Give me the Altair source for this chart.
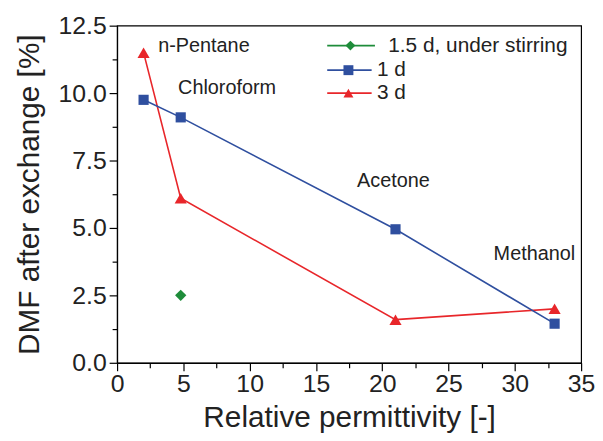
import altair as alt
import pandas as pd

# data
x_1d = [2.0, 4.8, 21.0, 33.0]
y_1d = [9.75, 9.1, 4.95, 1.45]
x_3d = [2.0, 4.8, 21.0, 33.0]
y_3d = [11.5, 6.1, 1.6, 2.0]
x_stir = [4.8]
y_stir = [2.5]

solvents = ["n-Pentane", "Chloroform", "Acetone", "Methanol"]
sol_x = [3.1, 4.6, 18.1, 28.4]
sol_y = [11.75, 10.2, 6.75, 4.05]

leg_labels = ["1.5 d, under stirring", "1 d", "3 d"]
leg_colors = ["#1e8c3a", "#2f4f9f", "#e8262a"]
leg_shapes = ["diamond", "square", "triangle-up"]
leg_y = [11.76, 10.85, 10.0]
leg_x1 = [15.85, 15.85, 15.85]
leg_x2 = [19.45, 19.2, 19.2]
leg_xm = [17.6, 17.45, 17.45]
leg_xt = [20.45, 19.6, 19.6]

x_ticks = [0, 2.5, 5, 7.5, 10, 12.5, 15, 17.5, 20, 22.5, 25, 27.5, 30, 32.5, 35]
y_ticks = [0, 1.25, 2.5, 3.75, 5, 6.25, 7.5, 8.75, 10, 11.25, 12.5]

FONT = "Liberation Sans"
xs = alt.Scale(domain=[0, 35], nice=False)
ys = alt.Scale(domain=[0, 12.5], nice=False)

df1 = pd.DataFrame({"x": x_1d, "y": y_1d})
df3 = pd.DataFrame({"x": x_3d, "y": y_3d})
dfs = pd.DataFrame({"x": x_stir, "y": y_stir})
dsol = pd.DataFrame({"x": sol_x, "y": sol_y, "t": solvents})
dleg = pd.DataFrame({"t": leg_labels, "c": leg_colors, "s": leg_shapes, "y": leg_y,
                     "x1": leg_x1, "x2": leg_x2, "xm": leg_xm, "xt": leg_xt})

xaxis = alt.Axis(values=x_ticks, title="Relative permittivity [-]",
                 labelExpr="datum.value % 5 === 0 ? datum.label : ''",
                 tickSize={"condition": {"test": "datum.value % 5 === 0", "value": 8}, "value": 5},
                 grid=False, labelFontSize=25, titleFontSize=30, labelFont=FONT, titleFont=FONT,
                 tickColor="black", domainColor="black", labelColor="#222",
                 titleColor="#222", titleFontWeight="normal", labelPadding=1, titlePadding=6,
                 tickWidth=1.2, domainWidth=1.2, labelFlush=False, labelOverlap=False)
yaxis = alt.Axis(values=y_ticks, format=".1f", title="DMF after exchange [%]",
                 labelExpr="datum.value % 2.5 === 0 ? datum.label : ''",
                 tickSize={"condition": {"test": "datum.value % 2.5 === 0", "value": 8}, "value": 5},
                 grid=False, labelFontSize=25, titleFontSize=30, labelFont=FONT, titleFont=FONT,
                 tickColor="black", domainColor="black", labelColor="#222",
                 titleColor="#222", titleFontWeight="normal", labelPadding=3, titlePadding=14,
                 tickWidth=1.2, domainWidth=1.2, labelOverlap=False)

X = lambda f: alt.X(f, scale=xs, axis=xaxis)
Y = lambda f: alt.Y(f, scale=ys, axis=yaxis)

def series(df, color, shape, size):
    line = alt.Chart(df).mark_line(color=color, strokeWidth=1.6).encode(x=X("x:Q"), y=Y("y:Q"))
    pts = alt.Chart(df).mark_point(color=color, shape=shape, filled=True, size=size, opacity=1).encode(
        x=X("x:Q"), y=Y("y:Q"))
    return line + pts

l1 = series(df1, leg_colors[1], "square", 105)
l3 = series(df3, leg_colors[2], "triangle-up", 150)
ls = alt.Chart(dfs).mark_point(color=leg_colors[0], shape="diamond", filled=True, size=130, opacity=1).encode(
    x=X("x:Q"), y=Y("y:Q"))

labels = alt.Chart(dsol).mark_text(align="left", baseline="middle", fontSize=20, font=FONT, color="#222").encode(
    x=X("x:Q"), y=Y("y:Q"), text="t:N")

leg_rule = alt.Chart(dleg).mark_rule(strokeWidth=1.6).encode(
    x=X("x1:Q"), x2="x2:Q", y=Y("y:Q"), color=alt.Color("c:N", scale=None))
leg_pts = alt.Chart(dleg).mark_point(filled=True, size=100, opacity=1).encode(
    x=X("xm:Q"), y=Y("y:Q"),
    color=alt.Color("c:N", scale=None), shape=alt.Shape("s:N", scale=None))
leg_txt = alt.Chart(dleg).mark_text(align="left", baseline="middle", fontSize=21, font=FONT, color="#222").encode(
    x=X("xt:Q"), y=Y("y:Q"), text="t:N")

chart = alt.layer(l3, l1, ls, labels, leg_rule, leg_pts, leg_txt).properties(
    width=468, height=340, padding={"left": 6, "top": 4, "right": 0, "bottom": 0}).configure_view(
    stroke="black", strokeWidth=1.2)

chart.save("out.html", embed_options={"renderer": "svg", "actions": False})
